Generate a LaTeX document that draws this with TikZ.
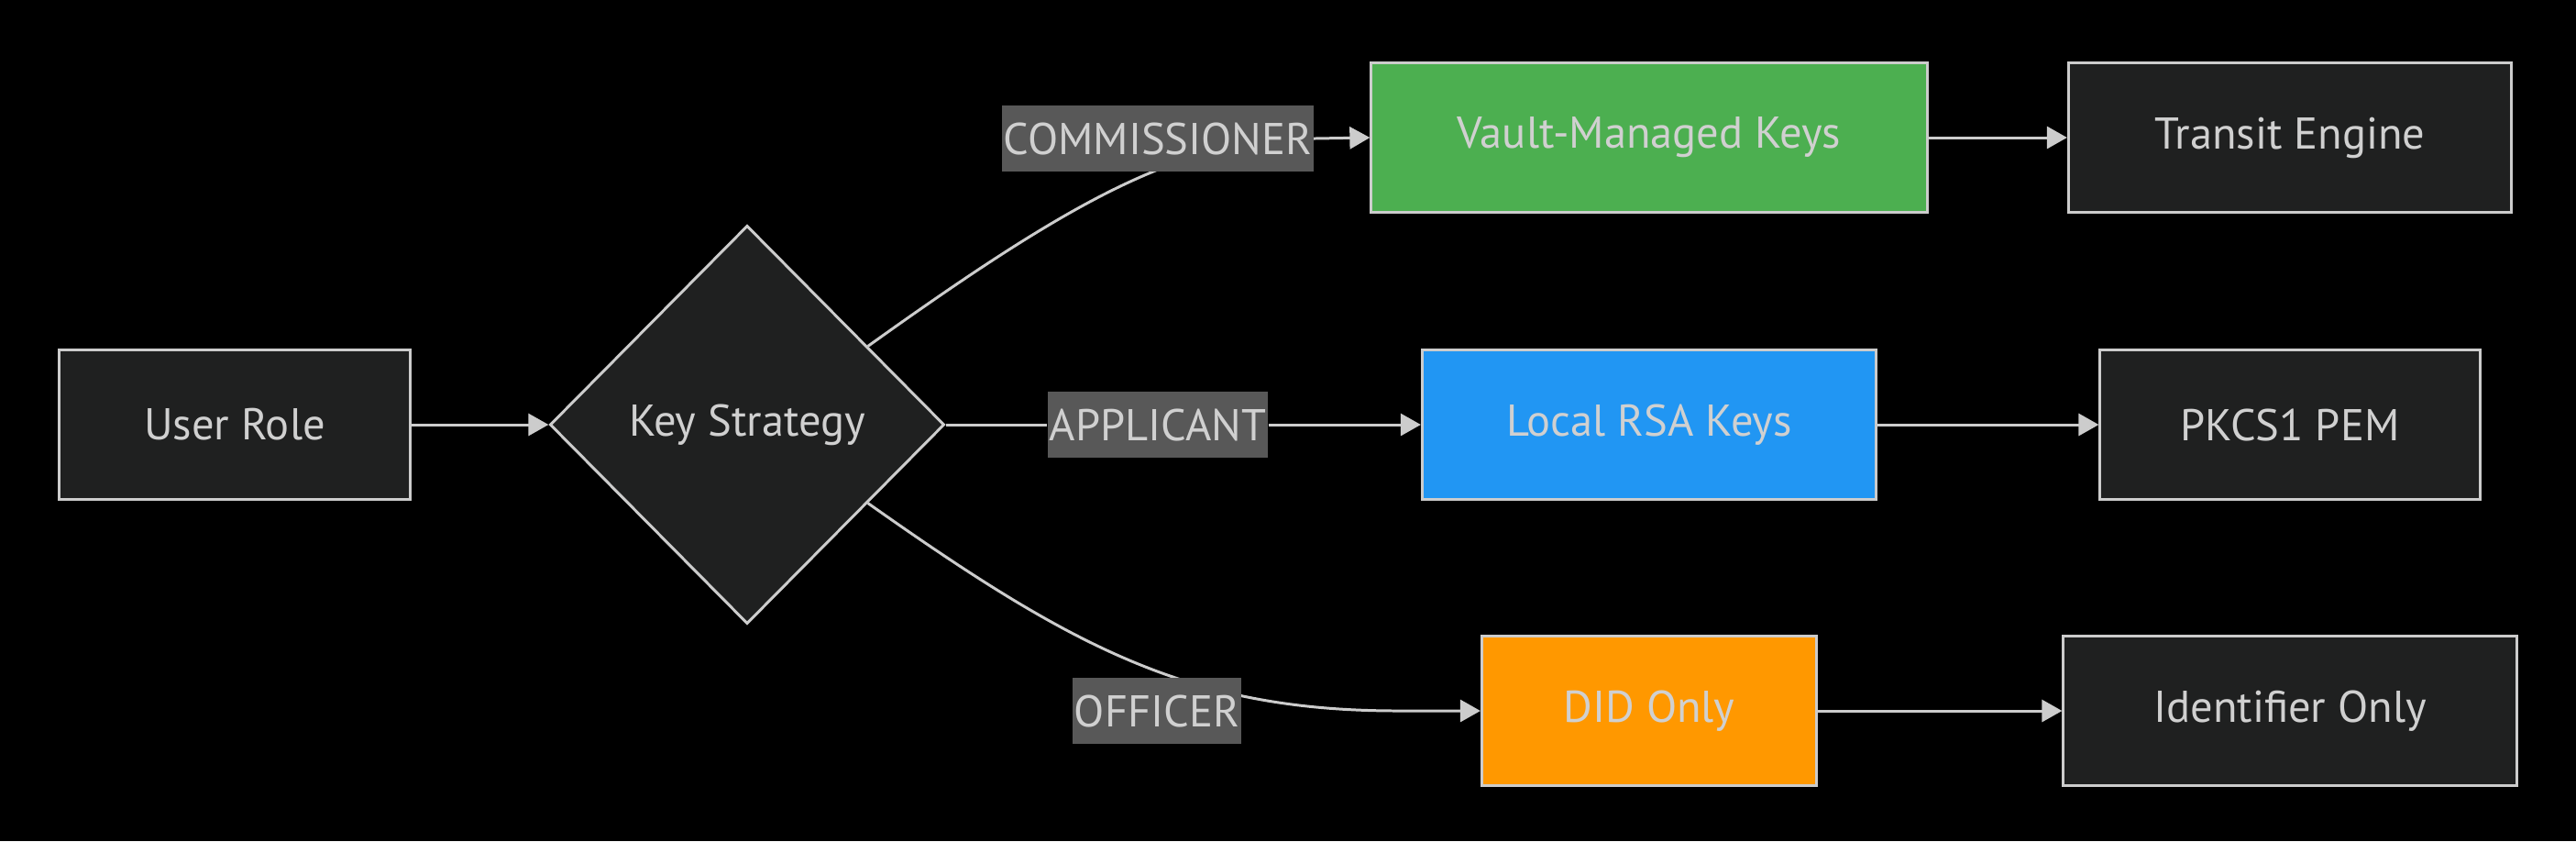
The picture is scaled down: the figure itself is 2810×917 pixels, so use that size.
\documentclass[tikz,border=0pt]{standalone}
\usepackage{fontspec}
\setmainfont{PT Sans}
\usetikzlibrary{arrows.meta,shapes.geometric}
\definecolor{nodebg}{HTML}{1F2020}
\definecolor{nodeline}{HTML}{CCCCCC}
\definecolor{labeltext}{HTML}{D0D0D0}
\definecolor{edgebg}{HTML}{585858}
\definecolor{vaultgreen}{HTML}{4CAF50}
\definecolor{rsablue}{HTML}{2196F3}
\definecolor{didorange}{HTML}{FF9800}
\pgfdeclarelayer{canvas}
\pgfdeclarelayer{edges}
\pgfsetlayers{canvas,edges,main}
\begin{document}
\begin{tikzpicture}[x=0.01cm, y=-0.01cm,
    font=\fontsize{13.8}{16}\selectfont,
    box/.style={draw=nodeline, fill=nodebg, line width=0.85pt, text=labeltext,
        minimum height=1.63cm, inner sep=0pt},
    choice/.style={diamond, draw=nodeline, fill=nodebg, line width=0.85pt, text=labeltext,
        minimum width=4.30cm, minimum height=4.34cm, inner sep=0pt},
    edgelabel/.style={fill=edgebg, text=labeltext, minimum height=0.72cm, inner sep=0.5pt},
    vector/.style={draw=nodeline, line width=0.85pt, -{Triangle[length=0.22cm,width=0.24cm]}}]

    \begin{pgfonlayer}{canvas}
        \fill[black] (0,0) rectangle (2810,917);
    \end{pgfonlayer}
    \useasboundingbox (0,0) rectangle (2810,917);

    % left side
    \node[box, minimum width=3.82cm] (user) at (256,463) {User Role};
    \node[choice] (strategy) at (815,463) {Key Strategy};

    % edge labels
    \node[edgelabel] (commissioner) at (1263,151) {COMMISSIONER};
    \node[edgelabel] (applicant) at (1263,463) {APPLICANT};
    \node[edgelabel] (officer) at (1262,775) {OFFICER};

    % key kinds
    \node[box, fill=vaultgreen, minimum width=6.06cm] (vault) at (1799,150) {Vault-Managed Keys};
    \node[box, fill=rsablue, minimum width=4.95cm] (localrsa) at (1799,463) {Local RSA Keys};
    \node[box, fill=didorange, minimum width=3.65cm] (did) at (1799,775) {DID Only};

    % outputs
    \node[box, minimum width=4.83cm] (transit) at (2498,150) {Transit Engine};
    \node[box, minimum width=4.14cm] (pkcs) at (2498,463) {PKCS1 PEM};
    \node[box, minimum width=4.94cm] (ident) at (2498,775) {Identifier Only};

    \begin{pgfonlayer}{edges}
        \draw[vector] (user) -- (strategy);
        \draw[vector] (strategy.33) .. controls (1174,215) and (1290,151) .. (commissioner.east) -- (vault.west);
        \draw[vector] (strategy) -- (applicant) -- (localrsa);
        \draw[vector] (strategy.-33) .. controls (1174,709) and (1300,775) .. (1526,775) -- (did.west);
        \foreach \from/\to in {vault/transit, localrsa/pkcs, did/ident}
            \draw[vector] (\from) -- (\to);
    \end{pgfonlayer}
\end{tikzpicture}
\end{document}
